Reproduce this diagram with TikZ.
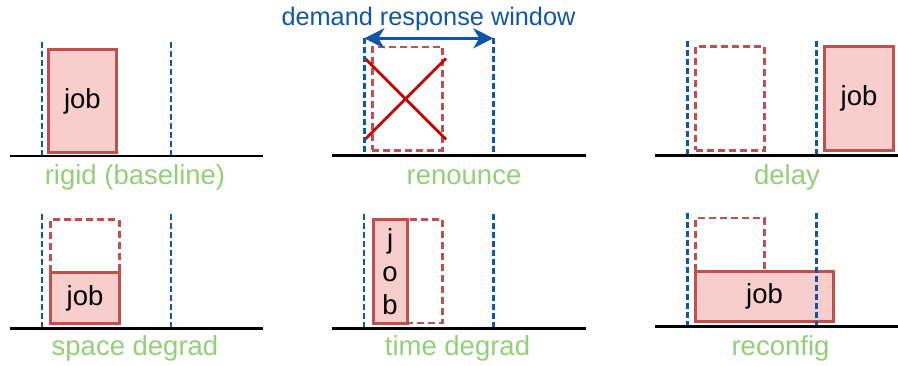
\documentclass[tikz,border=0pt]{standalone}
\usepackage{fontspec}
\setmainfont{Liberation Sans}
\usetikzlibrary{arrows.meta}
\definecolor{jobred}{RGB}{192,80,77}
\definecolor{jobfill}{RGB}{248,206,204}
\definecolor{wblue}{RGB}{16,86,166}
\definecolor{lgreen}{RGB}{146,208,120}
\definecolor{xred}{RGB}{204,0,0}
\begin{document}
\begin{tikzpicture}[x=1pt,y=-1pt,
 jobbox/.style={draw=jobred, fill=jobfill, line width=2.8pt, anchor=north west, inner sep=0pt, font=\fontsize{27.5}{33}\selectfont},
 ghost/.style={draw=jobred, dash pattern=on 7pt off 4pt, line width=2.5pt, anchor=north west, inner sep=0pt},
 win/.style={draw=wblue, line width=2.8pt, dash pattern=on 6pt off 3pt},
 ground/.style={draw=black, line width=2.5pt},
 lbl/.style={text=lgreen, anchor=base, font=\fontsize{27.5}{33}\selectfont, inner sep=0pt},
 cross/.style={draw=xred, line width=2.8pt},
 warrow/.style={draw=wblue, line width=3.2pt, {Stealth[length=20pt,width=20pt,inset=6pt]}-{Stealth[length=20pt,width=20pt,inset=6pt]}},
]
\useasboundingbox (0,0) rectangle (898,365);

% ---------- panel 1: rigid ----------
\node[jobbox, minimum width=68.6pt, minimum height=103pt] (j1) at (46.7,48.3) {job};
\coordinate (a1t) at (42,41.7); \coordinate (a1b) at (42,156);
\coordinate (b1t) at (171,41.7); \coordinate (b1b) at (171,156);
\draw[win] (a1t) -- (a1b);
\draw[win] (b1t) -- (b1b);
\coordinate (g1l) at (10,156); \coordinate (g1r) at (263,156);
\draw[ground] (g1l) -- (g1r);
\node[lbl] (l1) at (135,184.5) {rigid (baseline)};

% ---------- panel 2: renounce ----------
\node[ghost, minimum width=70pt, minimum height=103.3pt] (h2) at (371,45.7) {};
\coordinate (x2a) at (365,58.3); \coordinate (x2b) at (446,139.3);
\coordinate (x2c) at (365,139.3); \coordinate (x2d) at (446,58.3);
\draw[cross] (x2a) -- (x2b);
\draw[cross] (x2c) -- (x2d);
\coordinate (a2t) at (364.3,38.3); \coordinate (a2b) at (364.3,155.7);
\coordinate (b2t) at (493.3,38.3); \coordinate (b2b) at (493.3,155.7);
\draw[win] (a2t) -- (a2b);
\draw[win] (b2t) -- (b2b);
\draw[warrow] (a2t) -- (b2t);
\node[text=wblue, anchor=base, inner sep=0pt, font=\fontsize{25.3}{30}\selectfont] (title) at (428.5,25) {demand response window};
\coordinate (g2l) at (332,155.7); \coordinate (g2r) at (586,155.7);
\draw[ground] (g2l) -- (g2r);
\node[lbl] (l2) at (464,184) {renounce};

% ---------- panel 3: delay ----------
\node[ghost, minimum width=68.7pt, minimum height=104pt] (h3) at (694.3,45) {};
\node[jobbox, minimum width=68.7pt, minimum height=103.4pt] (j3) at (823.3,45.3) {job};
\coordinate (a3t) at (687.3,41); \coordinate (a3b) at (687.3,155.7);
\coordinate (b3t) at (816.7,41); \coordinate (b3b) at (816.7,155.7);
\draw[win] (a3t) -- (a3b);
\draw[win] (b3t) -- (b3b);
\coordinate (g3l) at (655,155.7); \coordinate (g3r) at (898,155.7);
\draw[ground] (g3l) -- (g3r);
\node[lbl] (l3) at (787,184) {delay};

% ---------- panel 4: space degrad ----------
\node[ghost, minimum width=68.7pt, minimum height=103.4pt] (h4) at (49.3,218.3) {};
\node[jobbox, minimum width=68.7pt, minimum height=50.4pt] (j4) at (49.3,271.3) {job};
\coordinate (a4t) at (42,214); \coordinate (a4b) at (42,328.3);
\coordinate (b4t) at (171,214); \coordinate (b4b) at (171,328.3);
\draw[win] (a4t) -- (a4b);
\draw[win] (b4t) -- (b4b);
\coordinate (g4l) at (10,328.3); \coordinate (g4r) at (263,328.3);
\draw[ground] (g4l) -- (g4r);
\node[lbl] (l4) at (135,355) {space degrad};

% ---------- panel 5: time degrad ----------
\node[ghost, minimum width=69.3pt, minimum height=103.4pt] (h5) at (371.7,218.3) {};
\node[jobbox, minimum width=34pt, minimum height=103.4pt, align=center] (j5) at (371.7,218.3) {j\\o\\b};
\coordinate (a5t) at (364,214); \coordinate (a5b) at (364,328.3);
\coordinate (b5t) at (493.3,214); \coordinate (b5b) at (493.3,328.3);
\draw[win] (a5t) -- (a5b);
\draw[win] (b5t) -- (b5b);
\coordinate (g5l) at (332,328.3); \coordinate (g5r) at (586,328.3);
\draw[ground] (g5l) -- (g5r);
\node[lbl] (l5) at (457.5,355) {time degrad};

% ---------- panel 6: reconfig ----------
\node[ghost, minimum width=68.7pt, minimum height=70pt] (h6) at (694.3,216.7) {};
\node[jobbox, minimum width=137.7pt, minimum height=49.4pt] (j6) at (694.3,270.3) {job};
\coordinate (a6t) at (687.3,212.7); \coordinate (a6b) at (687.3,326.7);
\coordinate (b6t) at (816.7,212.7); \coordinate (b6b) at (816.7,326.7);
\draw[win] (a6t) -- (a6b);
\draw[win] (b6t) -- (b6b);
\coordinate (g6l) at (655,326.7); \coordinate (g6r) at (898,326.7);
\draw[ground] (g6l) -- (g6r);
\node[lbl] (l6) at (780.5,355) {reconfig};
\end{tikzpicture}
\end{document}
